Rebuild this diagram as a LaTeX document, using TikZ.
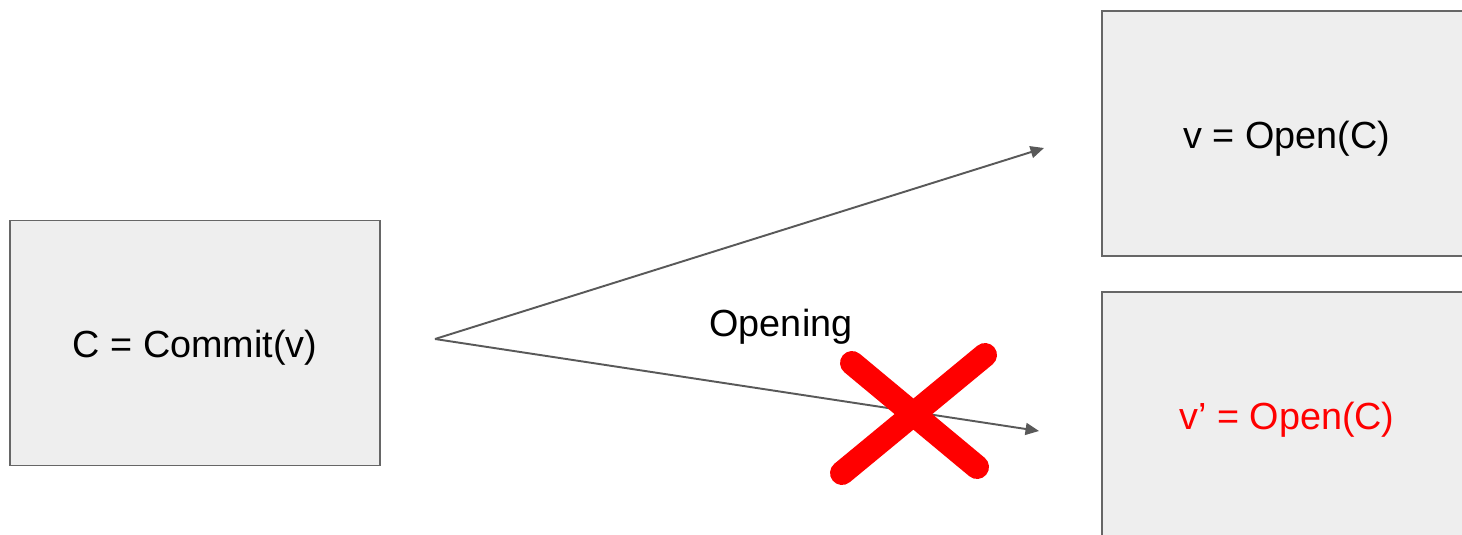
\documentclass[tikz,border=0pt]{standalone}
\usepackage{xcolor}
\usepackage{fontspec}
\setmainfont{Liberation Sans}
\usetikzlibrary{arrows.meta,positioning}

\definecolor{boxfill}{HTML}{EEEEEE}
\definecolor{boxline}{HTML}{666666}
\definecolor{arrowgray}{HTML}{595959}
\definecolor{crossred}{HTML}{FF0000}

\begin{document}
\begin{tikzpicture}[x=0.02cm, y=-0.02cm,
    every node/.style={font=\fontsize{21.5}{26}\selectfont},
    box/.style={draw=boxline, fill=boxfill, line width=1.1pt, inner sep=0pt,
      text height=20pt, text depth=3pt,
      minimum width=7.4cm, minimum height=4.9cm},
    link/.style={draw=arrowgray, line width=1.1pt,
      -{Triangle[length=0.27cm, width=0.24cm]}}]
  \useasboundingbox (0,0) rectangle (1462,534);
  \clip (0,0) rectangle (1462,534);

  % commitment and the two openings
  \node[box] (commit) at (195,343) {C = Commit(v)};
  \node[box] (open)   at (1287,133.5) {v = Open(C)};
  \node[box,text=crossred] (fake) at (1287,414.5) {v’ = Open(C)};

  \coordinate (fork) at (435,339);
  \coordinate (tipA) at (1044,148);
  \coordinate (tipB) at (1039,431);

  \draw[link] (fork) -- (tipA);
  \draw[link] (fork) -- (tipB);
  \node[anchor=base] (lbl) at (781,336) {Opening};

  % binding: the second opening is impossible
  \coordinate (x1) at (852,363); \coordinate (x2) at (977,467);
  \coordinate (x3) at (842,473); \coordinate (x4) at (985,355);
  \draw[crossred, line width=0.48cm, line cap=round] (x1) -- (x2);
  \draw[crossred, line width=0.48cm, line cap=round] (x3) -- (x4);
\end{tikzpicture}
\end{document}
